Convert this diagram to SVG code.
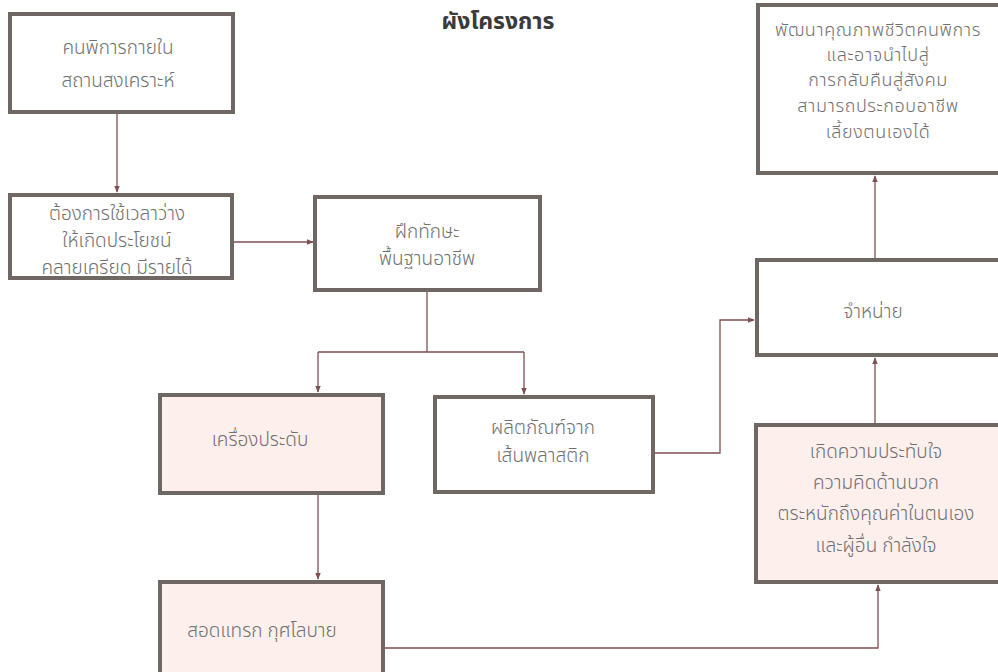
<svg xmlns="http://www.w3.org/2000/svg" width="998" height="672" viewBox="0 0 998 672">
<style>
.box{fill:#ffffff;stroke:#6e6764;stroke-width:4}
.pink{fill:#fcefec}
.t{font-family:"Noto Sans Thai","Noto Sans","DejaVu Sans",sans-serif;font-size:19px;font-weight:300;fill:#707070;text-anchor:middle;dominant-baseline:central}
.s{font-size:18px;letter-spacing:0.6px}
.title{font-family:"Noto Sans Thai","Noto Sans","DejaVu Sans",sans-serif;font-size:23px;font-weight:bold;fill:#3a3a3a;text-anchor:middle}
.c{fill:none;stroke:#7d4f50;stroke-width:1.3}
</style>
<defs>
<marker id="ah" viewBox="0 0 10 10" refX="9" refY="5" markerWidth="7" markerHeight="7" orient="auto" markerUnits="userSpaceOnUse">
<path d="M0,1 L10,5 L0,9 z" fill="#7d4f50"/>
</marker>
</defs>
<rect width="998" height="672" fill="#ffffff"/>
<text class="title" x="498" y="29">ผังโครงการ</text>

<g id="connectors">
<path class="c" d="M117,112 V192" marker-end="url(#ah)"/>
<path class="c" d="M232,242 H313" marker-end="url(#ah)"/>
<path class="c" d="M427,290 V352"/>
<path class="c" d="M318,352 H524"/>
<path class="c" d="M318,352 V392" marker-end="url(#ah)"/>
<path class="c" d="M524,352 V394" marker-end="url(#ah)"/>
<path class="c" d="M653,453 H720 V320 H754" marker-end="url(#ah)"/>
<path class="c" d="M875,258 V176" marker-end="url(#ah)"/>
<path class="c" d="M875,423 V358" marker-end="url(#ah)"/>
<path class="c" d="M318,495 V579" marker-end="url(#ah)"/>
<path class="c" d="M385,648 H878 V585" marker-end="url(#ah)"/>
</g>

<g id="nA">
<rect class="box" x="10" y="14" width="223" height="98"/>
<text class="t" x="118" y="48">คนพิการกายใน</text>
<text class="t" x="118" y="81">สถานสงเคราะห์</text>
</g>
<g id="nB">
<rect class="box" x="10" y="195" width="222" height="83"/>
<text class="t" x="117" y="214">ต้องการใช้เวลาว่าง</text>
<text class="t" x="117" y="241">ให้เกิดประโยชน์</text>
<text class="t" x="117" y="268">คลายเครียด มีรายได้</text>
</g>
<g id="nC">
<rect class="box" x="315" y="197" width="225" height="93"/>
<text class="t" x="427" y="232">ฝึกทักษะ</text>
<text class="t" x="427" y="259">พื้นฐานอาชีพ</text>
</g>
<g id="nD">
<rect class="box pink" x="160" y="395" width="223" height="98"/>
<text class="t" x="260" y="440">เครื่องประดับ</text>
</g>
<g id="nE">
<rect class="box" x="435" y="397" width="218" height="95"/>
<text class="t" x="543" y="428">ผลิตภัณฑ์จาก</text>
<text class="t" x="543" y="456">เส้นพลาสติก</text>
</g>
<g id="nF">
<rect class="box" x="757" y="260" width="250" height="95"/>
<text class="t" x="873" y="312">จำหน่าย</text>
</g>
<g id="nG">
<rect class="box" x="758" y="5" width="250" height="168"/>
<text class="t s" x="878" y="30">พัฒนาคุณภาพชีวิตคนพิการ</text>
<text class="t s" x="878" y="55">และอาจนำไปสู่</text>
<text class="t s" x="878" y="80">การกลับคืนสู่สังคม</text>
<text class="t s" x="878" y="106">สามารถประกอบอาชีพ</text>
<text class="t s" x="878" y="132">เลี้ยงตนเองได้</text>
</g>
<g id="nH">
<rect class="box pink" x="756" y="425" width="252" height="157"/>
<text class="t" x="876" y="452">เกิดความประทับใจ</text>
<text class="t" x="876" y="483">ความคิดด้านบวก</text>
<text class="t" x="876" y="514">ตระหนักถึงคุณค่าในตนเอง</text>
<text class="t" x="876" y="546">และผู้อื่น กำลังใจ</text>
</g>
<g id="nI">
<rect class="box pink" x="160" y="582" width="223" height="100"/>
<text class="t" x="262" y="631">สอดแทรก กุศโลบาย</text>
</g>
</svg>
